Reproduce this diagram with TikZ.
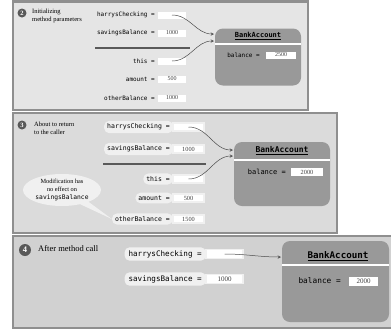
\documentclass[tikz,border=0pt]{standalone}
\usepackage{fontspec}
\setmainfont{Liberation Serif}
\setmonofont{DejaVu Sans Mono}
\usetikzlibrary{shapes.callouts}

\definecolor{paneA}{gray}{0.9}
\definecolor{paneB}{gray}{0.86}
\definecolor{paneC}{gray}{0.82}
\definecolor{frameC}{gray}{0.56}
\definecolor{objC}{gray}{0.6}
\definecolor{pillC}{gray}{0.94}
\definecolor{numC}{gray}{0.35}
\definecolor{refC}{gray}{0.3}

\newcommand{\fsz}[1]{\fontsize{#1}{#1}\selectfont}

\begin{document}
\begin{tikzpicture}[x=1pt, y=-1pt, >=stealth,
    panel/.style={draw=frameC, line width=2.5pt},
    stepnum/.style={circle, fill=numC, text=white, inner sep=0pt, minimum size=#1, font=\bfseries\fsz{6.5}},
    caption/.style={anchor=west, align=left, inner sep=0pt, font=\fontsize{6.5}{8}\selectfont},
    varname/.style={anchor=east, inner sep=2pt, font=\ttfamily\fsz{#1}},
    pill/.style={fill=pillC, rounded corners=5pt, inner xsep=3pt, inner ysep=3pt},
    valbox/.style={fill=white, inner sep=0pt, text=black!75, font=\fsz{6}},
    slot/.style={valbox, draw=pillC, line width=1.5pt},
    object/.style={fill=objC, rounded corners=8pt, inner sep=0pt},
    classname/.style={font=\ttfamily\bfseries\fsz{#1}},
    rule/.style={white, line width=1.5pt},
    sepline/.style={numC, line width=1.5pt},
    bubble/.style={ellipse callout, fill=pillC, align=center, inner sep=0pt, minimum width=78, minimum height=32, font=\fontsize{6.3}{8}\selectfont},
    ref/.style={->, refC, line width=0.5pt}
]
    \useasboundingbox (0,0) rectangle (391,330);
    \clip (0,0) rectangle (391,330);

    \draw[panel, fill=paneA] (13,1.5) rectangle (308,110);
    \node[stepnum=9] (num2) at (22,13) {2};
    \node[caption] (cap2) at (32,16) {Initializing\\method parameters};
    \begin{scope}[valbox/.append style={minimum width=28, minimum height=7}]
        \node[varname=6] (hc1) at (157,15) {harrysChecking =};
        \node[valbox] (hcv1) at (172,15) {};
        \node[varname=6] (sb1) at (157,33) {savingsBalance =};
        \node[valbox] (sbv1) at (172,33) {1000};
        \node[varname=6] (th1) at (157,61) {this =};
        \node[valbox] (thv1) at (172,61) {};
        \node[varname=6] (am1) at (157,79) {amount =};
        \node[valbox] (amv1) at (172,79) {500};
        \node[varname=6] (ob1) at (157,98) {otherBalance =};
        \node[valbox] (obv1) at (172,98) {1000};
        \draw[sepline] (95,48) -- (190,48);

        \node[object, minimum width=86, minimum height=57] (acc1) at (258,57) {};
        \node[classname=7] (cls1) at (258,36) {\underline{BankAccount}};
        \draw[rule] (215,44) -- (301,44);
        \node[varname=6] (bal1) at (262,55) {balance =};
        \node[valbox, minimum width=30] (balv1) at (281,55) {2500};
    \end{scope}
    \coordinate (in1a) at (214,34);
    \coordinate (in1b) at (214,41);
    \draw[ref] (hcv1.center) to[out=0, in=180] (in1a);
    \draw[ref] (thv1.center) to[out=0, in=180] (in1b);

    \draw[panel, fill=paneB] (13,113) rectangle (337,233);
    \node[stepnum=9] (num3) at (22,125) {3};
    \node[caption] (cap3) at (34,128) {About to return\\to the caller};
    \begin{scope}[valbox/.append style={minimum width=31, minimum height=8, font=\fsz{6.3}}]
        \node[varname=6.5, pill] (hc2) at (173,127) {harrysChecking =};
        \node[slot] (hcv2) at (188.5,127) {};
        \node[varname=6.5, pill] (sb2) at (173,149) {savingsBalance =};
        \node[slot] (sbv2) at (188.5,149) {1000};
        \node[varname=6.5, pill] (th2) at (173,179) {this =};
        \node[slot] (thv2) at (188.5,179) {};
        \node[varname=6.5, pill] (am2) at (173,198) {amount =};
        \node[slot] (amv2) at (188.5,198) {500};
        \node[varname=6.5, pill] (ob2) at (173,219) {otherBalance =};
        \node[slot] (obv2) at (188.5,219) {1500};
        \draw[sepline] (103,164) -- (206,164);

        \node[object, minimum width=96, minimum height=64] (acc2) at (282,174) {};
        \node[classname=8] (cls2) at (282,151) {\underline{BankAccount}};
        \draw[rule] (234,160) -- (330,160);
        \node[varname=7] (bal2) at (288,172) {balance =};
        \node[valbox, minimum width=32] (balv2) at (307,172) {2000};
    \end{scope}
    \node[bubble, callout absolute pointer={(ob2.west)}] (note) at (62,190) {Modification has\\no effect on\\\texttt{savingsBalance}};
    \coordinate (in2a) at (233,150);
    \coordinate (in2b) at (233,156);
    \draw[ref] (hcv2.center) to[out=0, in=180] (in2a);
    \draw[ref] (thv2.center) to[out=0, in=180] (in2b);

    \draw[panel, fill=paneC] (13,236) rectangle (400,328);
    \node[stepnum=12, font=\bfseries\fsz{8.5}] (num4) at (25,250) {4};
    \node[caption, font=\fsz{8.5}] (cap4) at (38,249) {After method call};
    \begin{scope}[valbox/.append style={minimum width=37, minimum height=9, font=\fsz{7}}]
        \node[varname=7.6, pill, inner xsep=4pt] (hc3) at (206,254) {harrysChecking =};
        \node[slot] (hcv3) at (224.5,254) {};
        \node[varname=7.6, pill, inner xsep=4pt] (sb3) at (206,279) {savingsBalance =};
        \node[slot] (sbv3) at (224.5,279) {1000};

        \node[object, minimum width=107, minimum height=81] (acc3) at (335.5,281.5) {};
        \node[classname=9.2] (cls3) at (338,256) {\underline{BankAccount}};
        \draw[rule] (282,265) -- (389,265);
        \node[varname=7.8] (bal3) at (343,281) {balance =};
        \node[valbox, minimum width=29] (balv3) at (363.5,281) {2000};
    \end{scope}
    \coordinate (in3) at (281,257);
    \draw[ref] (hcv3.center) to[out=0, in=180] (in3);
\end{tikzpicture}
\end{document}
